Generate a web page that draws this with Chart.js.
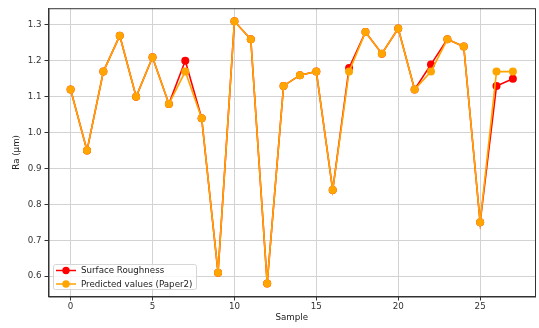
<!DOCTYPE html>
<html lang="en">
<head>
    <meta charset="UTF-8">
    <title>Surface Roughness</title>
    <script src="https://cdn.jsdelivr.net/npm/chart.js"></script>
    <style>
        body {
            margin: 0;
            padding: 0;
            background: #fff;
        }
        #wrap {
            width: 539px;
            height: 328px;
        }
    </style>
</head>
<body>
    <div id="wrap"><canvas id="raChart" width="539" height="328"></canvas></div>

    <script>
        // Sample index 0..27
        const samples = [0, 1, 2, 3, 4, 5, 6, 7, 8, 9, 10, 11, 12, 13, 14, 15, 16, 17, 18, 19, 20, 21, 22, 23, 24, 25, 26, 27];
        const surfaceRoughness = [1.12, 0.95, 1.17, 1.27, 1.10, 1.21, 1.08, 1.20, 1.04, 0.61, 1.31, 1.26, 0.58, 1.13, 1.16, 1.17, 0.84, 1.18, 1.28, 1.22, 1.29, 1.12, 1.19, 1.26, 1.24, 0.75, 1.13, 1.15];
        const predictedPaper2 = [1.12, 0.95, 1.17, 1.27, 1.10, 1.21, 1.08, 1.17, 1.04, 0.61, 1.31, 1.26, 0.58, 1.13, 1.16, 1.17, 0.84, 1.17, 1.28, 1.22, 1.29, 1.12, 1.17, 1.26, 1.24, 0.75, 1.17, 1.17];
        const xTicks = [0, 5, 10, 15, 20, 25];
        const yTicks = [0.6, 0.7, 0.8, 0.9, 1.0, 1.1, 1.2, 1.3];

        const RED = '#ff0000';
        const ORANGE = '#ffa500';
        const FONT = 'DejaVu Sans';
        const FS = 8.7;

        // frame + matplotlib-style legend in the lower left
        const framePlugin = {
            id: 'frame',
            afterDatasetsDraw(chart) {
                const { ctx, chartArea: a } = chart;
                ctx.save();
                ctx.strokeStyle = '#333';
                ctx.lineWidth = 1;
                ctx.strokeRect(a.left + 0.5, a.top + 0.5, a.right - a.left, a.bottom - a.top);

                const items = [
                    { label: 'Surface Roughness', color: RED },
                    { label: 'Predicted values (Paper2)', color: ORANGE }
                ];
                const bx = 53, by = 264, bw = 143, bh = 25;
                ctx.fillStyle = 'rgba(255,255,255,0.8)';
                ctx.strokeStyle = '#d6d6d6';
                ctx.beginPath();
                ctx.roundRect(bx + 0.5, by + 0.5, bw, bh, 2);
                ctx.fill();
                ctx.stroke();
                ctx.font = FS + 'px ' + FONT;
                ctx.textBaseline = 'middle';
                items.forEach((it, i) => {
                    const y = by + 6.5 + i * 13.5;
                    ctx.strokeStyle = it.color;
                    ctx.lineWidth = 1.5;
                    ctx.beginPath();
                    ctx.moveTo(bx + 3, y);
                    ctx.lineTo(bx + 23, y);
                    ctx.stroke();
                    ctx.fillStyle = it.color;
                    ctx.beginPath();
                    ctx.arc(bx + 13, y, 3.7, 0, Math.PI * 2);
                    ctx.fill();
                    ctx.fillStyle = '#222';
                    ctx.fillText(it.label, bx + 28, y + 0.5);
                });
                ctx.restore();
            }
        };

        const ctx = document.getElementById('raChart').getContext('2d');
        new Chart(ctx, {
            type: 'line',
            data: {
                datasets: [{
                    label: 'Surface Roughness',
                    data: samples.map((s, i) => ({ x: s, y: surfaceRoughness[i] })),
                    borderColor: RED,
                    backgroundColor: RED,
                    borderWidth: 1.6,
                    pointRadius: 4,
                    pointBorderWidth: 0,
                    tension: 0,
                    order: 1
                }, {
                    label: 'Predicted values (Paper2)',
                    data: samples.map((s, i) => ({ x: s, y: predictedPaper2[i] })),
                    borderColor: ORANGE,
                    backgroundColor: ORANGE,
                    borderWidth: 1.6,
                    pointRadius: 4,
                    pointBorderWidth: 0,
                    tension: 0,
                    order: 0
                }]
            },
            options: {
                responsive: false,
                animation: false,
                layout: { padding: { left: 0, right: 4, top: 5, bottom: 0 } },
                plugins: {
                    legend: { display: false },
                    tooltip: { enabled: false }
                },
                scales: {
                    x: {
                        type: 'linear',
                        min: -1.35,
                        max: 28.35,
                        afterBuildTicks: s => { s.ticks = xTicks.map(v => ({ value: v })); },
                        afterFit: s => { s.height = 31.5; },
                        ticks: {
                            color: '#333',
                            font: { family: FONT, size: FS },
                            padding: 1,
                            maxRotation: 0
                        },
                        grid: { color: '#d3d3d3', tickColor: '#333', tickLength: 4 },
                        border: { color: '#333' },
                        title: {
                            display: true,
                            text: 'Sample',
                            color: '#222',
                            font: { family: FONT, size: FS },
                            padding: { top: 2, bottom: 5 }
                        }
                    },
                    y: {
                        min: 0.5435,
                        max: 1.3465,
                        afterBuildTicks: s => { s.ticks = yTicks.map(v => ({ value: v })); },
                        afterFit: s => { s.width = 48.5; },
                        ticks: {
                            color: '#333',
                            font: { family: FONT, size: FS },
                            padding: 3,
                            callback: v => v.toFixed(1)
                        },
                        grid: { color: '#d3d3d3', tickColor: '#333', tickLength: 4 },
                        border: { color: '#333' },
                        title: {
                            display: true,
                            text: 'Ra (μm)',
                            color: '#222',
                            font: { family: FONT, size: FS },
                            padding: { top: 12, bottom: 2 }
                        }
                    }
                }
            },
            plugins: [framePlugin]
        });
    </script>
</body>
</html>
